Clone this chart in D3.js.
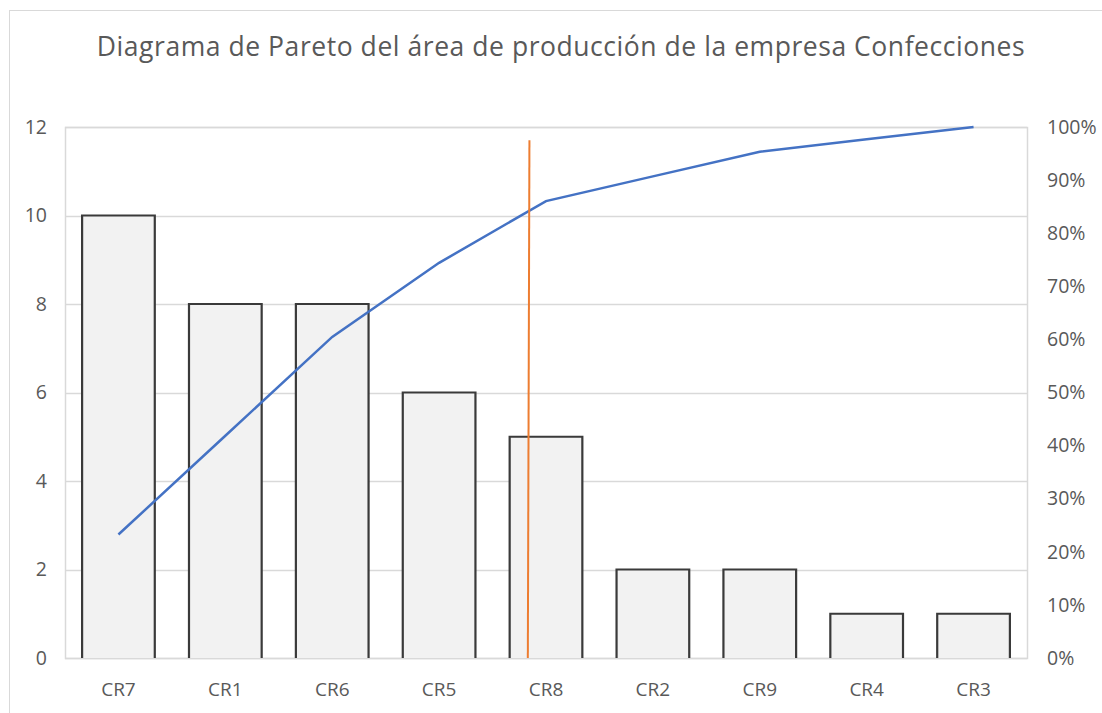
<!DOCTYPE html>
<html>
<head>
<meta charset="utf-8">
<script src="https://cdn.jsdelivr.net/npm/d3@7"></script>
<style>
  html, body { margin: 0; padding: 0; background: #fff; }
  svg { display: block; }
  text { font-family: "Open Sans", "Noto Sans", sans-serif; fill: #595959; }
</style>
</head>
<body>
<svg id="chart" width="1102" height="713"></svg>
<script>
// Defect categories, sorted by frequency
const categories = ["CR7", "CR1", "CR6", "CR5", "CR8", "CR2", "CR9", "CR4", "CR3"];
const frequencies = [10, 8, 8, 6, 5, 2, 2, 1, 1];
// Cumulative share of the total
const total = d3.sum(frequencies);
const cumulative = d3.cumsum(frequencies).map(v => v / total);
// Axis ticks
const leftTicks = [0, 2, 4, 6, 8, 10, 12];
const rightTicks = [0, 0.1, 0.2, 0.3, 0.4, 0.5, 0.6, 0.7, 0.8, 0.9, 1.0];
// Vertical cut-off marker: position in category units (0 = first bar centre) and top value
const cutoffPosition = [3.83, 3.845];
const cutoffRange = [0, 0.975];

const title = "Diagrama de Pareto del área de producción de la empresa Confecciones";

const svg = d3.select("#chart");
const plot = { left: 65, top: 127, right: 1027, bottom: 658 };

// Chart frame
svg.append("rect")
  .attr("x", 9.5).attr("y", 10.5)
  .attr("width", 1200).attr("height", 800)
  .attr("fill", "#fff").attr("stroke", "#d9d9d9").attr("stroke-width", 1);

svg.append("text")
  .attr("x", 561).attr("y", 56)
  .attr("text-anchor", "middle")
  .attr("font-size", 26.5)
  .attr("letter-spacing", 0.55)
  .text(title);

const x = d3.scaleBand().domain(categories)
  .range([plot.left, plot.right]).paddingInner(0.32).paddingOuter(0.16);
const xc = d3.scaleLinear().domain([0, categories.length - 1])
  .range([x(categories[0]) + x.bandwidth() / 2, x(categories[categories.length - 1]) + x.bandwidth() / 2]);
const yL = d3.scaleLinear().domain([0, 12]).range([plot.bottom, plot.top]);
const yR = d3.scaleLinear().domain([0, 1]).range([plot.bottom, plot.top]);

// Gridlines
svg.append("g").selectAll("line").data(leftTicks).join("line")
  .attr("x1", plot.left).attr("x2", plot.right)
  .attr("y1", d => Math.round(yL(d)) + 0.5).attr("y2", d => Math.round(yL(d)) + 0.5)
  .attr("stroke", "#d9d9d9").attr("stroke-width", 1.5);

// Plot area border
svg.append("rect")
  .attr("x", plot.left + 0.5).attr("y", plot.top + 0.5)
  .attr("width", plot.right - plot.left).attr("height", plot.bottom - plot.top)
  .attr("fill", "none").attr("stroke", "#d9d9d9").attr("stroke-width", 1.5);

// Left axis
const axL = svg.append("g").attr("transform", `translate(${plot.left},0)`)
  .call(d3.axisLeft(yL).tickValues(leftTicks).tickSize(0).tickPadding(18));
axL.select(".domain").remove();
axL.selectAll("text").attr("font-size", 19.5).attr("fill", "#595959").attr("font-family", null);

// Right axis
const axR = svg.append("g").attr("transform", `translate(${plot.right},0)`)
  .call(d3.axisRight(yR).tickValues(rightTicks).tickFormat(d3.format(".0%")).tickSize(0).tickPadding(20));
axR.select(".domain").remove();
axR.selectAll("text").attr("font-size", 19.5).attr("fill", "#595959").attr("font-family", null);

// Category axis
const axB = svg.append("g").attr("transform", `translate(0,${plot.bottom})`)
  .call(d3.axisBottom(x).tickSize(0).tickPadding(25));
axB.select(".domain").remove();
axB.selectAll("text").attr("font-size", 19).attr("fill", "#595959").attr("font-family", null);

// Bars
const bars = svg.append("g").selectAll("g").data(categories).join("g");
bars.append("rect")
  .attr("x", d => x(d)).attr("width", x.bandwidth())
  .attr("y", (d, i) => yL(frequencies[i]))
  .attr("height", (d, i) => yL(0) - yL(frequencies[i]))
  .attr("fill", "#f2f2f2");
bars.append("path")
  .attr("d", (d, i) => {
    const x0 = x(d), x1 = x(d) + x.bandwidth(), y0 = yL(0), y1 = yL(frequencies[i]);
    return `M${x0},${y0}L${x0},${y1}L${x1},${y1}L${x1},${y0}`;
  })
  .attr("fill", "none").attr("stroke", "#3a3a3a").attr("stroke-width", 2.2);

// Cumulative line
svg.append("path")
  .datum(cumulative)
  .attr("d", d3.line().x((d, i) => xc(i)).y(d => yR(d)))
  .attr("fill", "none").attr("stroke", "#4472c4").attr("stroke-width", 2.5);

// Cut-off marker
svg.append("line")
  .attr("x1", xc(cutoffPosition[0])).attr("x2", xc(cutoffPosition[1]))
  .attr("y1", yR(cutoffRange[0])).attr("y2", yR(cutoffRange[1]))
  .attr("stroke", "#ed7d31").attr("stroke-width", 2);
</script>
</body>
</html>
